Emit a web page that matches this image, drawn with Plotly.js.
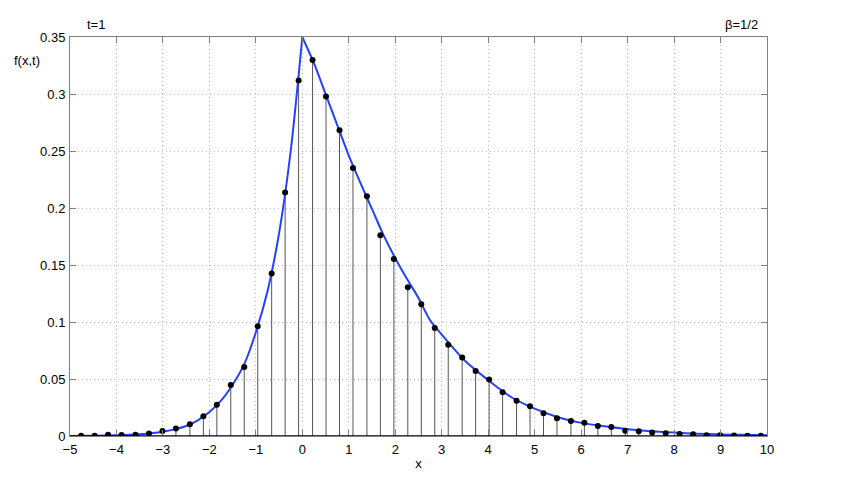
<!DOCTYPE html>
<html>
<head>
<meta charset="utf-8">
<script src="https://cdn.plot.ly/plotly-3.0.1.min.js"></script>
<style>
  html, body { margin: 0; padding: 0; background: #fff; }
  #plot { width: 861px; height: 491px; }
</style>
</head>
<body>
<div id="plot"></div>
<script>
// --- sampled points (stems) ---
const xPts = [-4.76, -4.47, -4.18, -3.89, -3.59, -3.30, -3.01, -2.72, -2.42, -2.13,
              -1.84, -1.54, -1.25, -0.96, -0.66, -0.37, -0.08, 0.22, 0.51, 0.80,
              1.09, 1.39, 1.68, 1.97, 2.27, 2.56, 2.85, 3.14, 3.44, 3.73,
              4.02, 4.31, 4.61, 4.90, 5.19, 5.48, 5.78, 6.07, 6.36, 6.65,
              6.95, 7.24, 7.53, 7.82, 8.12, 8.41, 8.70, 8.99, 9.29, 9.58, 9.87];
const yPts = [0.0002, 0.0002, 0.0010, 0.0008, 0.0010, 0.0023, 0.0044, 0.0065, 0.0103, 0.0173,
              0.0275, 0.0447, 0.0605, 0.0962, 0.1425, 0.2135, 0.3118, 0.3298, 0.2977, 0.2682,
              0.2351, 0.2103, 0.1761, 0.1553, 0.1304, 0.1155, 0.0947, 0.0801, 0.0688, 0.0570,
              0.0495, 0.0383, 0.0310, 0.0261, 0.0199, 0.0155, 0.0132, 0.0117, 0.0088, 0.0079,
              0.0047, 0.0041, 0.0030, 0.0024, 0.0018, 0.0015, 0.0006, 0.0006, 0.0004, 0.0002, 0.0002];

// --- density curve, left and right of the cusp at x=0 ---
const curveLeftX = [-5, -4.5, -4, -3.5, -3, -2.75, -2.5, -2.25, -2, -1.75, -1.5, -1.25,
                    -1, -0.75, -0.5, -0.25, 0];
const curveLeftY = [0.0001, 0.0002, 0.0006, 0.0016, 0.0038, 0.0058, 0.0088, 0.0138, 0.021, 0.031, 0.045, 0.063,
                    0.091, 0.127, 0.178, 0.250, 0.35];
const curveRightX = [0, 0.25, 0.5, 0.75, 1.0, 1.25, 1.5, 1.75, 2.0, 2.25, 2.5, 2.75,
                     3.0, 3.5, 4.0, 4.5, 5.0, 5.5, 6.0, 6.5, 7.0, 7.5, 8.0, 8.5, 9.0, 9.5, 10];
const curveRightY = [0.35, 0.327, 0.300, 0.273, 0.246, 0.222, 0.199, 0.176, 0.156, 0.138, 0.121, 0.1015,
                     0.089, 0.066, 0.049, 0.034, 0.024, 0.0165, 0.0115, 0.0085, 0.006, 0.0042, 0.003, 0.002, 0.0014, 0.001, 0.0007];

// stems as one trace with gaps
const stemX = [], stemY = [];
xPts.forEach((x, i) => { stemX.push(x, x, null); stemY.push(0, yPts[i], null); });

const blue = 'rgb(35,65,255)';
const traces = [
    { x: stemX, y: stemY, mode: 'lines', type: 'scatter', line: { color: '#555', width: 1 }, hoverinfo: 'skip' },
    { x: curveLeftX, y: curveLeftY, mode: 'lines', type: 'scatter', line: { color: blue, width: 2, shape: 'spline', smoothing: 0.8 } },
    { x: curveRightX, y: curveRightY, mode: 'lines', type: 'scatter', line: { color: blue, width: 2, shape: 'spline', smoothing: 0.8 } },
    { x: xPts, y: yPts, mode: 'markers', type: 'scatter', marker: { color: '#000', size: 6 } }
];

const axisCommon = {
    showline: true, linecolor: '#808080', linewidth: 1,
    mirror: 'ticks', ticks: 'inside', ticklen: 6, tickcolor: '#808080',
    showgrid: true, gridcolor: '#bdbdbd', griddash: '1px,3px', gridwidth: 1,
    zeroline: false,
    tickfont: { family: 'Liberation Sans, Arial, sans-serif', size: 13, color: '#000' }
};

const layout = {
    width: 861, height: 491,
    margin: { l: 70, r: 94, t: 37, b: 55 },
    paper_bgcolor: '#fff', plot_bgcolor: '#fff',
    showlegend: false,
    font: { family: 'Liberation Sans, Arial, sans-serif', size: 13, color: '#000' },
    xaxis: Object.assign({}, axisCommon, {
        range: [-5, 10], dtick: 1, tick0: 0, ticklabelstandoff: 1,
        title: { text: 'x', standoff: 3, font: { size: 13 } }
    }),
    yaxis: Object.assign({}, axisCommon, {
        range: [0, 0.35], dtick: 0.05, tick0: 0, ticklabelstandoff: 1
    }),
    shapes: [
        { type: 'line', xref: 'paper', yref: 'y', x0: 0, x1: 1, y0: 0, y1: 0, line: { color: '#000', width: 1.5 }, layer: 'above' }
    ],
    annotations: [
        { text: 't=1', xref: 'paper', yref: 'paper', x: 0.022, y: 1.0, xanchor: 'left', yanchor: 'bottom', yshift: 3, showarrow: false },
        { text: 'β=1/2', xref: 'paper', yref: 'paper', x: 0.99, y: 1.0, xanchor: 'right', yanchor: 'bottom', yshift: 3, showarrow: false },
        { text: 'f(x,t)', xref: 'paper', yref: 'paper', x: 0, y: 0.94, xanchor: 'right', xshift: -28, yanchor: 'middle', showarrow: false }
    ]
};

Plotly.newPlot('plot', traces, layout, { displayModeBar: false, staticPlot: true });
</script>
</body>
</html>
